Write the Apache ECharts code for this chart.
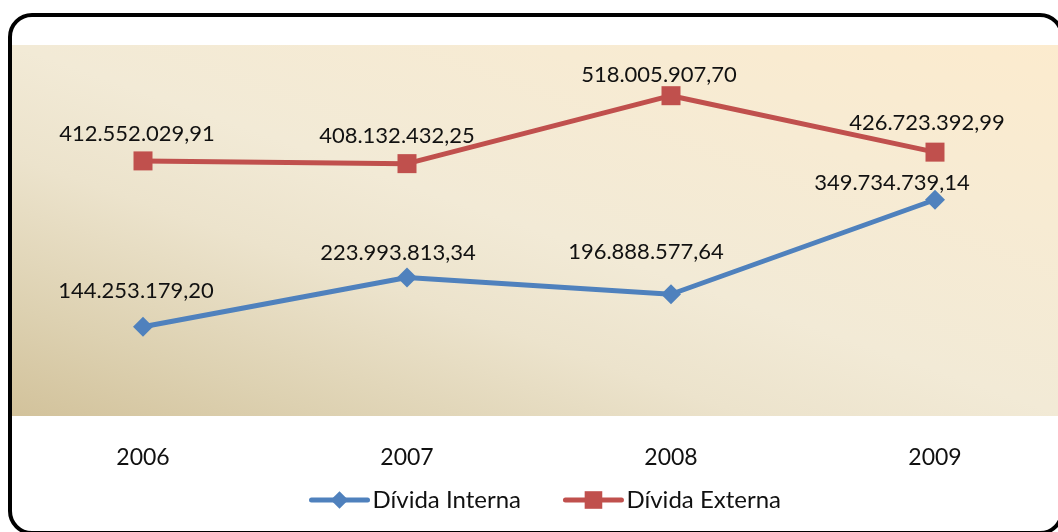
<!DOCTYPE html>
<html>
<head>
<meta charset="utf-8">
<script src="https://cdn.jsdelivr.net/npm/echarts@6/dist/echarts.min.js"></script>
<style>
  html, body { margin: 0; padding: 0; background: #fff; }
  #chart { width: 1058px; height: 532px; }
</style>
</head>
<body>
<div id="chart"></div>
<script>
// Dívida pública por ano
const years = ['2006', '2007', '2008', '2009'];
const dividaInterna = [144253179.20, 223993813.34, 196888577.64, 349734739.14];
const dividaExterna = [412552029.91, 408132432.25, 518005907.70, 426723392.99];

// label placement relative to each marker (dx, dy)
const shiftInterna = [[-7, -36], [-9, -25], [-25, -42], [-43, -17]];
const shiftExterna = [[-6, -27], [-10, -28], [-12, -21], [-8, -29]];

const FONT = 'Lato';
const GRID = { left: 11, top: 45, width: 1056, height: 371 };

function formatBR(v) {
  const parts = v.toFixed(2).split('.');
  const intPart = parts[0].replace(/\B(?=(\d{3})+(?!\d))/g, '.');
  return intPart + ',' + parts[1];
}

function withShift(values, shifts) {
  return values.map((v, i) => ({ value: v, label: { offset: shifts[i] } }));
}

// diagonal wash across the plot area, tan in the lower-left corner
const cx = GRID.left + GRID.width / 2;
const cy = GRID.top + GRID.height / 2;
const dir = [GRID.height, -GRID.width];
const dl = Math.hypot(dir[0], dir[1]);
const u = [dir[0] / dl, dir[1] / dl];
const half = Math.abs((-GRID.width / 2) * u[0] + (GRID.height / 2) * u[1]);
const plotFill = new echarts.graphic.LinearGradient(
  cx - half * u[0], cy - half * u[1], cx + half * u[0], cy + half * u[1],
  [
    { offset: 0, color: '#d2c29b' },
    { offset: 0.15, color: '#ddd1b1' },
    { offset: 0.35, color: '#ece3cc' },
    { offset: 0.5, color: '#f2ead6' },
    { offset: 0.75, color: '#f7ebd3' },
    { offset: 1, color: '#fcebce' }
  ],
  true
);

const labelStyle = {
  show: true,
  position: 'inside',
  align: 'center',
  verticalAlign: 'middle',
  color: '#111',
  fontFamily: FONT,
  fontSize: 22,
  formatter: p => formatBR(p.value)
};

const chart = echarts.init(document.getElementById('chart'), null, { renderer: 'canvas' });
chart.setOption({
  animation: false,
  backgroundColor: '#fff',
  grid: {
    left: GRID.left, top: GRID.top, width: GRID.width, height: GRID.height,
    outerBoundsMode: 'none',
    show: true, backgroundColor: plotFill, borderWidth: 0
  },
  xAxis: {
    type: 'category',
    data: years,
    boundaryGap: true,
    axisLine: { show: false },
    axisTick: { show: false },
    axisLabel: { color: '#111', fontFamily: FONT, fontSize: 23, margin: 30 }
  },
  yAxis: {
    type: 'value',
    min: 0,
    max: 600000000,
    show: false,
    splitLine: { show: false }
  },
  legend: {
    left: 304,
    top: 483,
    itemWidth: 56,
    itemHeight: 22,
    itemGap: 42,
    lineStyle: { width: 5, cap: 'round' },
    textStyle: { color: '#111', fontFamily: FONT, fontSize: 24 },
    data: ['Dívida Interna', 'Dívida Externa']
  },
  graphic: [
    {
      type: 'rect',
      z: 100,
      silent: true,
      shape: { x: 10, y: 15, width: 1052, height: 518, r: 22 },
      style: { fill: null, stroke: '#000', lineWidth: 4 }
    }
  ],
  series: [
    {
      name: 'Dívida Interna',
      type: 'line',
      data: withShift(dividaInterna, shiftInterna),
      symbol: 'diamond',
      symbolSize: 20,
      itemStyle: { color: '#4f81bd' },
      lineStyle: { color: '#4f81bd', width: 5 },
      label: labelStyle
    },
    {
      name: 'Dívida Externa',
      type: 'line',
      data: withShift(dividaExterna, shiftExterna),
      symbol: 'rect',
      symbolSize: 19,
      itemStyle: { color: '#c0504d' },
      lineStyle: { color: '#c0504d', width: 5 },
      label: labelStyle
    }
  ]
});
</script>
</body>
</html>
